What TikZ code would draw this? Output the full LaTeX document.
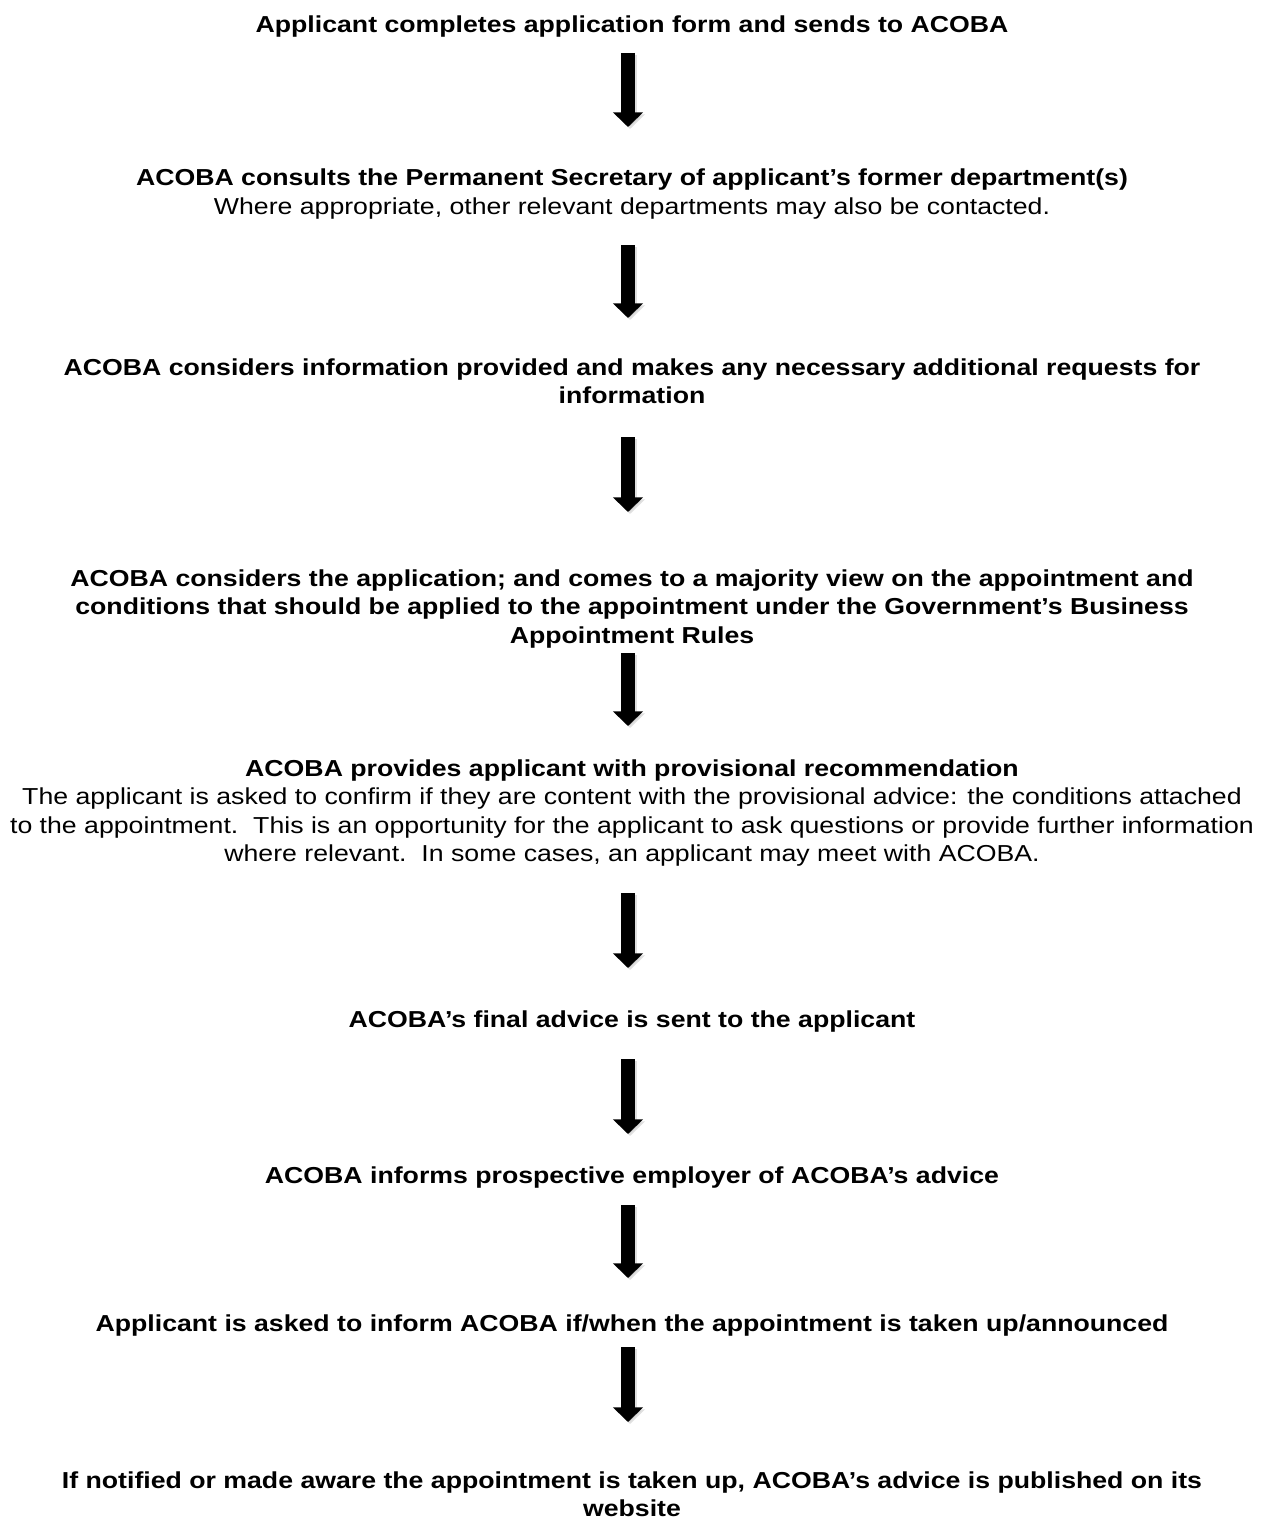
\documentclass[tikz,border=0pt]{standalone}
\usepackage{fontspec}
\setmainfont{Liberation Sans}[FakeStretch=1.155]
\usetikzlibrary{arrows.meta,positioning}

\begin{document}
\begin{tikzpicture}[
  x=0.5197pt, y=-0.5197pt,
  font=\fontsize{12}{14.7}\selectfont,
  stagetext/.style={align=center, inner sep=0pt, font=\fontsize{12}{14.7}\selectfont\bfseries},
  downarrow/.style={line width=7.3pt, draw=black, -{Triangle[width=15.2pt,length=7.6pt]}},
  arrowshade/.style={line width=7.3pt, draw=black!30, opacity=0.4, -{Triangle[width=15.2pt,length=7.6pt]}}
]
\useasboundingbox (0,0) rectangle (1265,1524);

% stages
\node[stagetext] (s1) at (632,27) {Applicant completes application form and sends to ACOBA};
\node[stagetext] (s2) at (632,194) {ACOBA consults the Permanent Secretary of applicant’s former department(s)\\
  \mdseries Where appropriate, other relevant departments may also be contacted.};
\node[stagetext] (s3) at (632,381) {ACOBA considers information provided and makes any necessary additional requests for\\ information};
\node[stagetext] (s4) at (632,609) {ACOBA considers the application; and comes to a majority view on the appointment and\\
  conditions that should be applied to the appointment under the Government’s Business\\ Appointment Rules};
\node[stagetext] (s5) at (632,813) {ACOBA provides applicant with provisional recommendation\\
  \mdseries The applicant is asked to confirm if they are content with the provisional advice: the conditions attached\\
  \mdseries to the appointment.\ \ This is an opportunity for the applicant to ask questions or provide further information\\
  \mdseries where relevant.\ \ In some cases, an applicant may meet with ACOBA.};
\node[stagetext] (s6) at (632,1022) {ACOBA’s final advice is sent to the applicant};
\node[stagetext] (s7) at (632,1178) {ACOBA informs prospective employer of ACOBA’s advice};
\node[stagetext] (s8) at (632,1326) {Applicant is asked to inform ACOBA if/when the appointment is taken up/announced};
\node[stagetext] (s9) at (632,1494) {If notified or made aware the appointment is taken up, ACOBA’s advice is published on its\\ website};

% arrow ends
\foreach \i/\top/\tip in {1/53/127, 2/245/318, 3/437/512, 4/653/726, 5/893/968, 6/1059/1134, 7/1205/1278, 8/1347/1422}{
  \coordinate (a\i s) at (628,\top);
  \coordinate (a\i e) at (628,\tip);
  \draw[arrowshade] ([shift={(2,2)}]a\i s) -- ([shift={(2,2)}]a\i e);
  \draw[downarrow] (a\i s) -- (a\i e);
}
\end{tikzpicture}
\end{document}
